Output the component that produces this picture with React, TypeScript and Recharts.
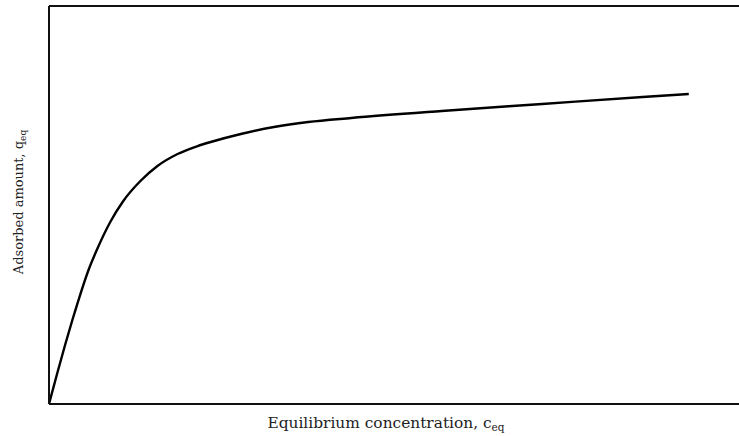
import { LineChart, Line, XAxis, YAxis } from 'recharts';

// values (arbitrary units, both axes run 0..100)
const concentration = [0, 1.16, 2.32, 3.33, 4.35, 5.65, 6.96, 8.84, 10.72, 13.19, 15.65, 18.55, 21.45, 23.33, 27.68, 32.46, 37.39, 43.62, 56.67, 71.16, 85.65, 92.32];
const adsorbed = [0, 7.54, 14.82, 20.85, 26.63, 33.42, 38.94, 45.73, 51.01, 56.03, 59.8, 62.81, 64.82, 65.83, 67.84, 69.6, 70.85, 71.86, 73.62, 75.38, 77.14, 77.89];

const xLabel = 'Equilibrium concentration, c';
const yLabel = 'Adsorbed amount, q';
const subscript = 'eq';

const data = concentration.map((c, i) => ({ c, q: adsorbed[i] }));

const FONT = '"DejaVu Serif", serif';

function XLabel() {
  return (
    <text x={386} y={428} textAnchor="middle" fontFamily={FONT} fontSize={15.4} fill="#222">
      {xLabel}
      <tspan fontSize={10.5} dy={3}>{subscript}</tspan>
    </text>
  );
}

function YLabel() {
  const cy = 202;
  const x = 23;
  return (
    <text x={x} y={cy} textAnchor="middle" fontFamily={FONT} fontSize={13} fill="#222" transform={`rotate(-90, ${x}, ${cy})`}>
      {yLabel}
      <tspan fontSize={9} dy={3}>{subscript}</tspan>
    </text>
  );
}

export default function App() {
  return (
    <div style={{ position: 'absolute', left: 0, top: 0, background: '#fff', width: 739, height: 436, overflow: 'hidden' }}>
      <LineChart width={742} height={436} data={data} margin={{ top: 0, right: 0, bottom: 0, left: 0 }}>
        <XAxis
          dataKey="c"
          type="number"
          domain={[0, 100]}
          height={32}
          tick={false}
          tickLine={false}
          axisLine={{ stroke: '#111', strokeWidth: 2 }}
          label={<XLabel />}
        />
        <XAxis
          xAxisId="top"
          orientation="top"
          dataKey="c"
          type="number"
          domain={[0, 100]}
          height={6}
          tick={false}
          tickLine={false}
          axisLine={{ stroke: '#111', strokeWidth: 2 }}
        />
        <YAxis
          type="number"
          domain={[0, 100]}
          width={49}
          tick={false}
          tickLine={false}
          axisLine={{ stroke: '#111', strokeWidth: 2 }}
          label={<YLabel />}
        />
        <Line
          type="monotone"
          dataKey="q"
          stroke="#000"
          strokeWidth={2.4}
          dot={false}
          isAnimationActive={false}
        />
      </LineChart>
    </div>
  );
}
